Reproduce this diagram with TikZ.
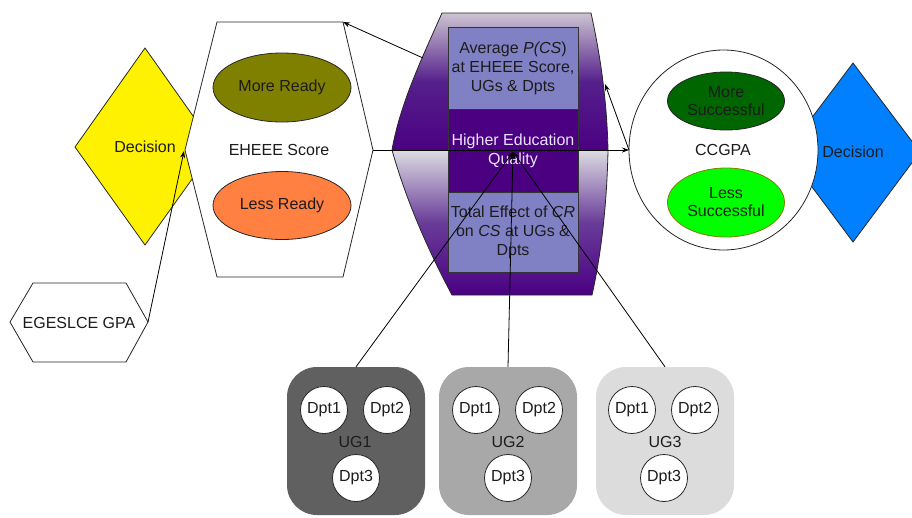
\documentclass[tikz,border=0pt]{standalone}
\usepackage{fontspec}
\setmainfont{Liberation Sans}
\usetikzlibrary{shapes.geometric,arrows.meta}
\definecolor{txt}{HTML}{1C1C1C}
\definecolor{olivec}{HTML}{808000}
\definecolor{orangec}{HTML}{FF8040}
\definecolor{dgreen}{HTML}{006600}
\definecolor{lgreen}{HTML}{00FF00}
\definecolor{rectc}{HTML}{8080C4}
\definecolor{indigoc}{HTML}{4B0082}
\definecolor{barlight}{HTML}{CCC4D2}
\definecolor{barlight2}{HTML}{DCDCE2}
\definecolor{bardark}{HTML}{55208C}
\definecolor{ugone}{HTML}{606060}
\definecolor{ugtwo}{HTML}{A8A8A8}
\definecolor{ugthree}{HTML}{DCDCDC}
\definecolor{bluec}{HTML}{0080FF}
\definecolor{lavtext}{HTML}{E8E4F8}
\tikzset{
  every node/.style={font=\fontsize{16}{19}\selectfont, text=txt},
  conn/.style={draw=black, line width=0.8pt},
  arr/.style={conn, -{Stealth[length=7pt,width=5pt]}},
  shapeline/.style={draw=black!85, line width=0.8pt},
  ell/.style={ellipse, shapeline, inner sep=0pt, align=center},
  ugbox/.style={rectangle, rounded corners=30pt, minimum width=138pt, minimum height=148pt, inner sep=0pt},
  dpt/.style={circle, draw=black!85, line width=0.8pt, fill=white, minimum size=47pt, inner sep=0pt},
  inrect/.style={rectangle, draw=black!80, line width=0.6pt, minimum width=130pt, inner sep=0pt, align=center}
}
\begin{document}
\begin{tikzpicture}[x=1pt,y=-1pt]
\useasboundingbox (0,0) rectangle (912,517);
\clip (0,0) rectangle (912,517);
\fill[white] (0,0) rectangle (912,517);

% yellow diamond (behind hexagon)
\draw[shapeline, fill=yellow] (145,48) -- (215,147) -- (145,245) -- (75,147) -- cycle;
% blue diamond (behind circle)
\draw[shapeline, fill=bluec] (853,63) -- (920,152) -- (853,242) -- (786,152) -- cycle;

% EHEEE hexagon
\draw[shapeline, fill=white] (217,22) -- (343,22) -- (373,150) -- (343,277) -- (217,277) -- (185,150) -- cycle;
\coordinate (ehNE) at (343,22);
\coordinate (ehE) at (373,150);
\coordinate (ehW) at (184,151);
\node (ydec) at (145,147) {Decision};
\node (ehs) at (279,150) {EHEEE Score};
\node[ell, fill=olivec, minimum width=138pt, minimum height=69pt] (mr) at (282,87.5) {More Ready};
\node[ell, fill=orangec, minimum width=138pt, minimum height=68pt] (lr) at (282,205.5) {Less Ready};

% EGESLCE hexagon
\draw[shapeline, fill=white] (33,283) -- (126,283) -- (148,322) -- (126,362) -- (33,362) -- (10,322) -- cycle;
\coordinate (egE) at (148,322);
\node (eg) at (79,323) {EGESLCE GPA};

% CCGPA circle
\draw[shapeline, fill=white] (723.5,150) ellipse [x radius=94.5, y radius=100];
\coordinate (ccW) at (629,150);
\node (bdec) at (853,152) {Decision};
\node (cc) at (723,150) {CCGPA};
\node[ell, fill=dgreen, minimum width=117pt, minimum height=58pt] (ms) at (726,101) {More\\[-1pt]Successful};
\node[ell, draw=olivec, fill=lgreen, minimum width=117pt, minimum height=69pt] (ls) at (726,202.5) {Less\\[-1pt]Successful};

% barrel
\shade[top color=barlight, bottom color=indigoc, middle color=bardark]
  (442,13) -- (591,13) .. controls (601,58) and (607,104) .. (608,150) -- (392,150) .. controls (400,104) and (422,58) .. (442,13) -- cycle;
\shade[top color=barlight2, bottom color=indigoc, middle color=bardark!85!barlight2]
  (392,150) -- (608,150) .. controls (607,200) and (602,250) .. (592,295) -- (452,295) .. controls (428,250) and (406,200) .. (392,150) -- cycle;
\draw[shapeline] (442,13) -- (591,13) .. controls (601,58) and (607,104) .. (608,150)
  .. controls (607,200) and (602,250) .. (592,295) -- (452,295)
  .. controls (428,250) and (406,200) .. (392,150) .. controls (400,104) and (422,58) .. (442,13) -- cycle;
\coordinate (barNW) at (423,58);
\coordinate (barE) at (605,84);
\node[inrect, fill=rectc, minimum height=82pt] (avg) at (513,68) {Average \textit{P(CS}) \\ at EHEEE Score, \\ UGs \& Dpts};
\node[inrect, fill=indigoc, minimum height=83pt, text=lavtext] (heq) at (513,150.5) {Higher Education \\ Quality};
\node[inrect, fill=rectc, minimum height=80pt] (tot) at (513,232) {Total Effect of \textit{CR} \\ on \textit{CS} at UGs \& \\ Dpts};
\coordinate (hq) at (513,152);

% UG boxes
\node[ugbox, fill=ugone] (ug1) at (356,441) {};
\node[ugbox, fill=ugtwo] (ug2) at (508,441) {};
\node[ugbox, fill=ugthree] (ug3) at (665,441) {};
\node (ug1l) at (355,442) {UG1};
\node (ug2l) at (508,442) {UG2};
\node (ug3l) at (665,442) {UG3};
\foreach \u/\c in {1/356,2/508,3/664}{
  \node[dpt] (d\u a) at (\c-32,410) {Dpt1};
  \node[dpt] (d\u b) at (\c+31,410) {Dpt2};
  \node[dpt] (d\u c) at (\c,478) {Dpt3};
}

% connectors
\draw[arr] (egE) -- (ehW);
\draw[arr] (barNW) -- (ehNE);
\draw[arr] (ehE) -- (ccW);
\draw[arr] (ccW) -- (barE);
\draw[arr] (ug1.north) -- (hq);
\draw[arr] (ug2.north) -- (hq);
\draw[arr] (ug3.north) -- (hq);
\end{tikzpicture}
\end{document}
